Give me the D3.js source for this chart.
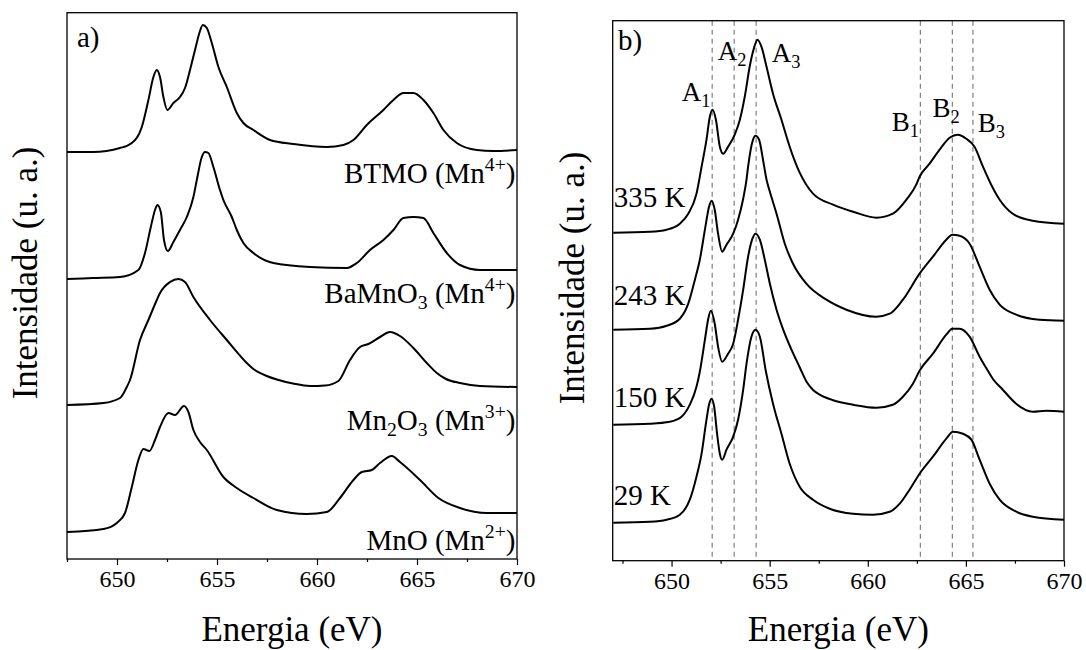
<!DOCTYPE html>
<html>
<head>
<meta charset="utf-8">
<script src="https://cdn.jsdelivr.net/npm/d3@7"></script>
<style>
  body { margin: 0; background: #fff; }
  svg { display: block; font-family: "Liberation Serif", "Times New Roman", serif; }
</style>
</head>
<body>
<svg id="chart" width="1086" height="650"></svg>
<script>
/* global d3 */

// Energy axis ticks (eV), shared by both panels
const majorTicks = [650, 655, 660, 665, 670];
const minorTicks = [647.5, 652.5, 657.5, 662.5, 667.5];

// Panel a) -- reference spectra, [energy (eV), intensity (u. a., stacked)]
const btmo = [[647.5,407],[648.8,407],[650.15,411],[650.74,416],[651.24,432],[651.57,459],[651.82,482],[651.99,489],[652.15,482],[652.32,462],[652.52,449],[652.82,456],[653.15,462],[653.4,471],[653.65,489],[653.9,509],[654.12,526],[654.29,534],[654.49,531],[654.74,516],[655.07,492],[655.49,472],[655.99,446],[656.32,436],[656.82,429],[657.65,419],[658.82,415],[660.49,412],[661.32,414],[661.82,419],[662.49,434],[663.32,449],[663.82,459],[664.32,466],[664.82,466],[665.32,459],[665.82,446],[666.32,429],[666.99,416],[667.99,409],[668.82,408],[670,409]];
const bamno3 = [[647.5,280],[648.8,281],[650.15,282],[651.07,289],[651.4,306],[651.69,332],[651.9,349],[652.02,354],[652.19,347],[652.35,319],[652.54,308],[652.82,317],[653.15,329],[653.49,342],[653.82,362],[653.99,379],[654.24,402],[654.4,407],[654.57,406],[654.82,392],[655.15,369],[655.32,359],[655.74,342],[655.99,329],[656.32,316],[656.82,306],[657.82,296],[659.65,292],[661.49,291],[661.99,296],[662.65,309],[663.32,319],[663.82,329],[664.32,341],[664.82,342],[665.32,341],[665.82,326],[666.49,306],[667.15,294],[668.15,289],[670,289]];
const mn2o3 = [[647.5,154],[649.32,156],[650.15,161],[650.49,172],[650.65,179],[651.15,219],[651.57,239],[651.99,259],[652.15,266],[652.65,277],[653.07,280],[653.4,277],[653.82,262],[654.65,239],[655.49,219],[656.49,196],[656.82,190],[657.49,183],[657.99,179.5],[658.8,175.5],[659.65,173],[660.4,173.5],[661.07,178],[661.65,199],[662.15,212],[662.57,215],[663.15,222],[663.65,227],[664.15,223],[664.82,211],[665.49,196],[665.99,186],[666.45,180],[667.15,176],[668.15,173],[670,172]];
const mno = [[647.5,27],[649.32,30],[649.99,36],[650.4,46],[650.74,72],[651.07,99],[651.32,110],[651.62,108],[651.9,119],[652.15,132],[652.57,146],[652.9,144],[653.35,153],[653.57,147],[653.82,129],[654.15,117],[654.49,109],[655.32,82],[655.99,71],[656.82,61],[657.99,49],[659.49,45],[660.49,47],[661.15,61],[661.82,79],[662.24,87],[662.74,89],[663.15,96],[663.74,103],[664.15,97],[665.15,79],[666.07,61],[667.15,51],[668.49,46],[670,46]];

// Panel b) -- BTMO at several temperatures
const t335 = [[647.03,328],[648.9,329],[649.75,331],[650.42,337],[650.85,347],[651.27,367],[651.53,394],[651.78,421],[651.95,444],[652.09,451],[652.26,441],[652.46,414],[652.63,407],[652.88,414],[653.22,426],[653.48,441],[653.73,464],[653.98,494],[654.19,512],[654.38,521],[654.58,514],[654.84,494],[655.17,467],[655.6,441],[656.02,414],[656.53,388],[657.21,367],[658.23,356],[659.25,349],[660.44,343],[661.28,347],[661.97,361],[662.47,376],[662.64,384],[663.15,397],[663.66,411],[664.17,423],[664.59,426],[665.02,422],[665.44,414],[665.87,394],[666.29,376],[666.72,361],[667.39,347],[668.41,340],[670,337]];
const t243 = [[647.03,231],[648.9,232],[649.75,235],[650.42,242],[650.85,257],[651.19,281],[651.44,301],[651.7,331],[651.91,354],[652.04,360],[652.2,351],[652.37,327],[652.58,309],[652.8,316],[653.14,327],[653.39,341],[653.65,362],[653.82,381],[653.9,394],[654.15,421],[654.28,425],[654.46,421],[654.66,401],[654.84,381],[655.01,369],[655.35,347],[655.77,317],[656.19,297],[656.87,277],[657.89,261],[658.91,251],[660.44,244],[661.12,247],[661.79,261],[662.64,287],[663.32,304],[664.0,321],[664.31,326],[664.68,325],[665.19,317],[665.7,294],[666.21,271],[666.72,256],[667.57,246],[668.75,241],[670,240]];
const t150 = [[647.03,136],[648.9,137],[649.91,139],[650.51,144],[650.93,156],[651.27,174],[651.44,189],[651.7,221],[651.86,241],[652.0,250],[652.2,237],[652.37,214],[652.58,199],[652.88,207],[653.14,217],[653.39,241],[653.65,271],[653.9,304],[654.12,322],[654.28,327],[654.5,321],[654.75,301],[655.01,277],[655.35,251],[655.69,231],[656.11,211],[656.54,193],[656.88,179],[657.2,171],[657.55,166],[658.23,160.5],[659.25,156],[660.44,153],[661.28,156],[661.79,164],[662.3,177],[662.64,190],[663.32,207],[664.0,226],[664.31,232],[664.68,232],[665.19,224],[665.7,204],[666.12,190],[666.37,182],[666.88,171],[667.56,157],[668.41,149],[669.09,150],[670,149]];
const t29 = [[647.03,38],[648.9,39],[649.75,41],[650.42,46],[650.93,61],[651.27,84],[651.53,107],[651.75,137],[651.92,157],[652.04,162],[652.17,154],[652.32,127],[652.46,107],[652.58,101],[652.8,111],[653.14,124],[653.39,141],[653.65,171],[653.82,197],[654.07,224],[654.28,231],[654.5,224],[654.8,190],[655.17,157],[655.6,127],[656.02,97],[656.53,74],[657.21,61],[658.06,52],[659.25,47],[660.27,46],[661.12,49],[661.63,57],[662.13,71],[662.64,87],[663.32,104],[664.0,122],[664.34,129],[664.85,127],[665.28,121],[665.7,101],[666.21,77],[666.72,61],[667.57,49],[668.41,44],[670,41]];

// Labels
const refNames = [
  [{t: 'BTMO (Mn'}, {t: '4+', sup: true}, {t: ')'}],
  [{t: 'BaMnO'}, {t: '3', sub: true}, {t: ' (Mn'}, {t: '4+', sup: true}, {t: ')'}],
  [{t: 'Mn'}, {t: '2', sub: true}, {t: 'O'}, {t: '3', sub: true}, {t: ' (Mn'}, {t: '3+', sup: true}, {t: ')'}],
  [{t: 'MnO (Mn'}, {t: '2+', sup: true}, {t: ')'}],
];
const tempNames = ['335 K', '243 K', '150 K', '29 K'];
const featureNames = [['A', '1'], ['A', '2'], ['A', '3'], ['B', '1'], ['B', '2'], ['B', '3']];
const featureEnergies = [652.07, 653.19, 654.31, 662.68, 664.31, 665.36];

(function() {
  // Panel boxes in page pixels, with their data extents
  const PANEL_A = {left: 67, right: 517, top: 12.7, bottom: 559, xMin: 647.5, yMax: 546.3};
  const PANEL_B = {left: 612.7, right: 1064, top: 20.7, bottom: 560.7, xMin: 647, yMax: 540};

  // Where the text labels sit (energy / intensity, in each panel's units)
  const REF_LABEL_Y = [376, 256, 129, 9];
  const TEMP_LABEL_Y = [354, 256, 154, 56];
  const FEATURE_LABEL_POS = [[650.52, 460], [652.36, 501], [655.1, 499], [661.22, 430], [663.3, 444], [665.6, 429]];

  const LINE_STYLE = {stroke: 'black', width: 2};
  const DASH_STYLE = {stroke: '#808080', width: 1.2, dash: '5,4'};

  const svg = d3.select('#chart');

  // Builds x/y scales for a panel
  function scales(p) {
    return {
      x: d3.scaleLinear().domain([p.xMin, 670]).range([p.left, p.right]),
      y: d3.scaleLinear().domain([0, p.yMax]).range([p.bottom, p.top]),
    };
  }

  // Text with sub/superscript runs
  function richText(g, x, y, parts, size, anchor) {
    const text = g.append('text')
      .attr('x', x).attr('y', y)
      .attr('font-size', size)
      .attr('text-anchor', anchor || 'start');
    let shift = 0;
    parts.forEach((p) => {
      const target = p.sup ? -size * 0.4 : p.sub ? size * 0.22 : 0;
      text.append('tspan')
        .attr('dy', target - shift)
        .attr('font-size', (p.sup || p.sub) ? size * 0.68 : size)
        .text(p.t);
      shift = target;
    });
    return text;
  }

  // Frame, bottom axis ticks and axis titles
  function drawFrame(p, s, titleY, yTitle) {
    const major = svg.append('g')
      .attr('transform', `translate(0,${p.bottom})`)
      .call(d3.axisBottom(s.x).tickValues(majorTicks).tickSize(6).tickPadding(5)
        .tickFormat(d3.format('d')));
    major.attr('font-family', null).attr('font-size', 24);
    major.select('.domain').remove();
    major.selectAll('.tick line').attr('stroke-width', 1.2);
    major.selectAll('.tick text').attr('fill', 'black');

    const minor = svg.append('g')
      .attr('transform', `translate(0,${p.bottom})`)
      .call(d3.axisBottom(s.x).tickValues(minorTicks).tickSize(3).tickFormat(''));
    minor.select('.domain').remove();
    minor.selectAll('.tick line').attr('stroke-width', 1.2);

    svg.append('rect')
      .attr('x', p.left).attr('y', p.top)
      .attr('width', p.right - p.left).attr('height', p.bottom - p.top)
      .attr('fill', 'none').attr('stroke', 'black').attr('stroke-width', 1.3);

    svg.append('text')
      .attr('x', (p.left + p.right) / 2).attr('y', titleY)
      .attr('text-anchor', 'middle').attr('font-size', 35)
      .text('Energia (eV)');

    svg.append('text')
      .attr('transform', `translate(${yTitle[0]},${yTitle[1]}) rotate(-90)`)
      .attr('text-anchor', 'middle').attr('font-size', 35)
      .text('Intensidade (u. a.)');
  }

  function drawCurves(s, series) {
    const line = d3.line()
      .x((d) => s.x(d[0]))
      .y((d) => s.y(d[1]))
      .curve(d3.curveMonotoneX);
    svg.append('g').selectAll('path')
      .data(series)
      .join('path')
      .attr('d', line)
      .attr('fill', 'none')
      .attr('stroke', LINE_STYLE.stroke)
      .attr('stroke-width', LINE_STYLE.width)
      .attr('stroke-linejoin', 'round');
  }

  // ---- Panel a)
  const sa = scales(PANEL_A);
  drawFrame(PANEL_A, sa, 641, [37, 273]);
  drawCurves(sa, [btmo, bamno3, mn2o3, mno]);
  refNames.forEach((parts, i) => {
    richText(svg, PANEL_A.right - 1.5, sa.y(REF_LABEL_Y[i]), parts, 29, 'end');
  });
  svg.append('text').attr('x', 77).attr('y', 47).attr('font-size', 29).text('a)');

  // ---- Panel b)
  const sb = scales(PANEL_B);
  svg.append('g').selectAll('line')
    .data(featureEnergies)
    .join('line')
    .attr('x1', (d) => sb.x(d)).attr('x2', (d) => sb.x(d))
    .attr('y1', PANEL_B.top).attr('y2', PANEL_B.bottom)
    .attr('stroke', DASH_STYLE.stroke)
    .attr('stroke-width', DASH_STYLE.width)
    .attr('stroke-dasharray', DASH_STYLE.dash);
  drawFrame(PANEL_B, sb, 641, [584, 278]);
  drawCurves(sb, [t335, t243, t150, t29]);
  tempNames.forEach((name, i) => {
    svg.append('text')
      .attr('x', PANEL_B.left + 1).attr('y', sb.y(TEMP_LABEL_Y[i]))
      .attr('font-size', 29).text(name);
  });
  featureNames.forEach((f, i) => {
    const [e, v] = FEATURE_LABEL_POS[i];
    richText(svg, sb.x(e), sb.y(v), [{t: f[0]}, {t: f[1], sub: true}], 27);
  });
  svg.append('text').attr('x', 618).attr('y', 50).attr('font-size', 29).text('b)');
})();
</script>
</body>
</html>
